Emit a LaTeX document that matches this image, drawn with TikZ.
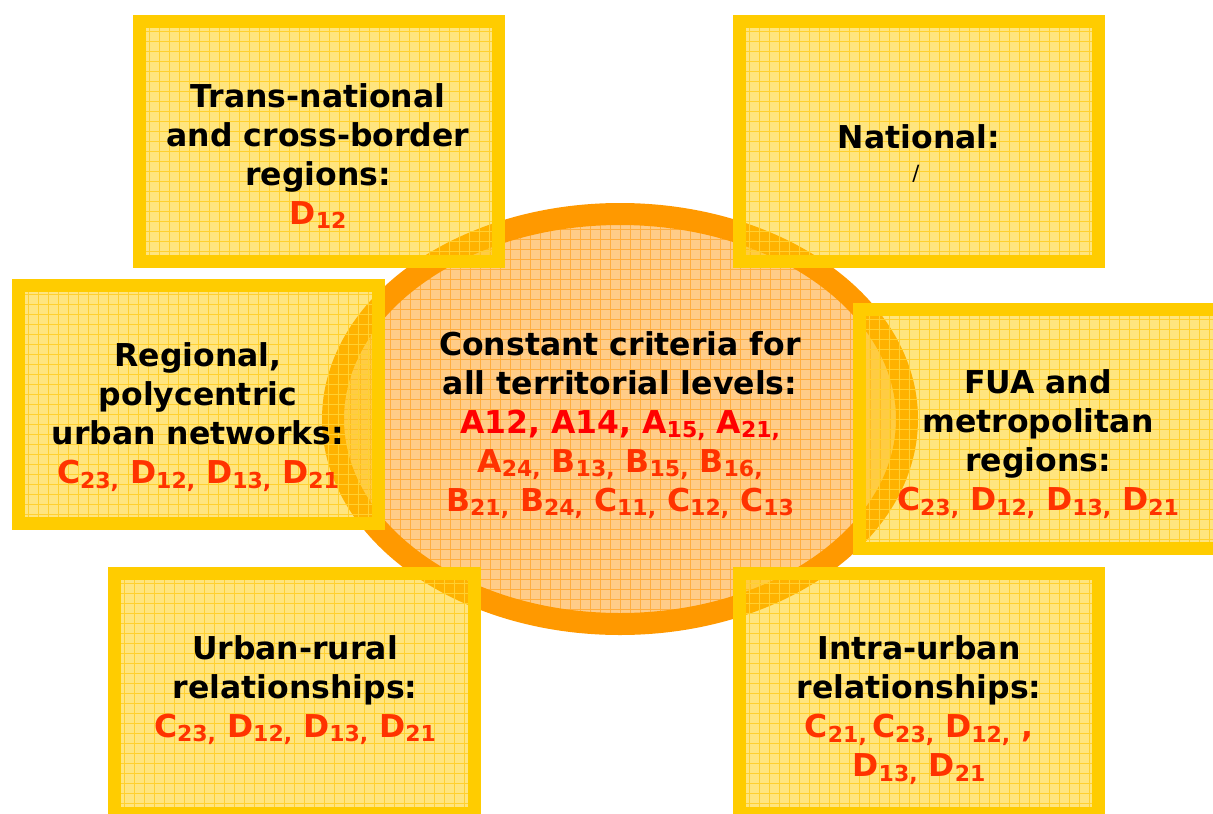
\documentclass[tikz,border=0pt]{standalone}
\usepackage{fontspec}
\setmainfont{DejaVu Sans}
\usetikzlibrary{shapes.geometric}
\definecolor{byellow}{HTML}{FFCC00}
\definecolor{gridy}{HTML}{FFD030}
\definecolor{ringor}{HTML}{FF9900}
\definecolor{ellfill}{HTML}{FFCC88}
\definecolor{gridor}{HTML}{FFAE40}
\definecolor{codered}{HTML}{FF3300}
\definecolor{brightred}{HTML}{FF0000}
\newcommand\sbs[1]{\raisebox{-4.5pt}{\fontsize{22}{22}\selectfont #1}}
\tikzset{
  lvlbox/.style={rectangle, draw=byellow, line width=13pt, fill=byellow,
    fill opacity=0.5, draw opacity=1, inner sep=0pt,
    minimum width=360pt, minimum height=240pt,
    path picture={\draw[draw=gridy, line width=0.8pt, draw opacity=1, step=10pt]
      (path picture bounding box.south west) grid (path picture bounding box.north east);}},
  centerell/.style={ellipse, draw=ringor, line width=22pt, fill=ellfill, inner sep=0pt,
    minimum width=574pt, minimum height=410pt,
    path picture={\draw[draw=gridor, line width=0.8pt, step=10pt]
      (path picture bounding box.south west) grid (path picture bounding box.north east);}},
  lbl/.style={align=center, text=black, font=\bfseries\fontsize{31.5}{39}\selectfont, inner sep=0pt},
}
\begin{document}
\begin{tikzpicture}[x=1pt,y=-1pt]
\useasboundingbox (0,0) rectangle (1213,814);
\clip (0,0) rectangle (1213,814);
\node[centerell] (ell) at (620,419) {};
\node[lvlbox, minimum width=359pt, minimum height=240pt] (tl) at (319,141.5) {};
\node[lvlbox, minimum width=359pt, minimum height=240pt] (tr) at (919,141.5) {};
\node[lvlbox, minimum width=360pt, minimum height=238pt] (ml) at (198.5,404.5) {};
\node[lvlbox, minimum width=360pt, minimum height=239pt] (mr) at (1039.5,429) {};
\node[lvlbox, minimum width=360pt, minimum height=240pt] (bl) at (294.5,693.5) {};
\node[lvlbox, minimum width=359pt, minimum height=240pt] (br) at (919,693.5) {};
%
\node[lbl] (tltext) at (318,156) {Trans-national\\and cross-border\\regions:\\\textcolor{codered}{D\sbs{12}}};
\node[lbl] (trtext) at (919,137) {National:};
\node[inner sep=0pt, font=\fontsize{21}{21}\selectfont] (trslash) at (916,174) {/};
\node[lbl] (mltext) at (198,417) {Regional,\\polycentric\\urban networks:\\\textcolor{codered}{C\sbs{23,} D\sbs{12,} D\sbs{13,} D\sbs{21}}};
\node[lbl] (ctext) at (620,425) {Constant criteria for\\all territorial levels:\\\textcolor{brightred}{A12, A14, A\sbs{15,} A\sbs{21,}}\\\textcolor{codered}{A\sbs{24,} B\sbs{13,} B\sbs{15,} B\sbs{16,}}\\\textcolor{codered}{B\sbs{21,} B\sbs{24,} C\sbs{11,} C\sbs{12,} C\sbs{13}}};
\node[lbl] (mrtext) at (1038,444) {FUA and\\metropolitan\\regions:\\\textcolor{codered}{C\sbs{23,} D\sbs{12,} D\sbs{13,} D\sbs{21}}};
\node[lbl] (bltext) at (295,690) {Urban-rural\\relationships:\\\textcolor{codered}{C\sbs{23,} D\sbs{12,} D\sbs{13,} D\sbs{21}}};
\node[lbl] (brtext) at (919,710) {Intra-urban\\relationships:\\\textcolor{codered}{C\sbs{21,}\,C\sbs{23,} D\sbs{12,} ,}\\\textcolor{codered}{D\sbs{13,} D\sbs{21}}};
\end{tikzpicture}
\end{document}
